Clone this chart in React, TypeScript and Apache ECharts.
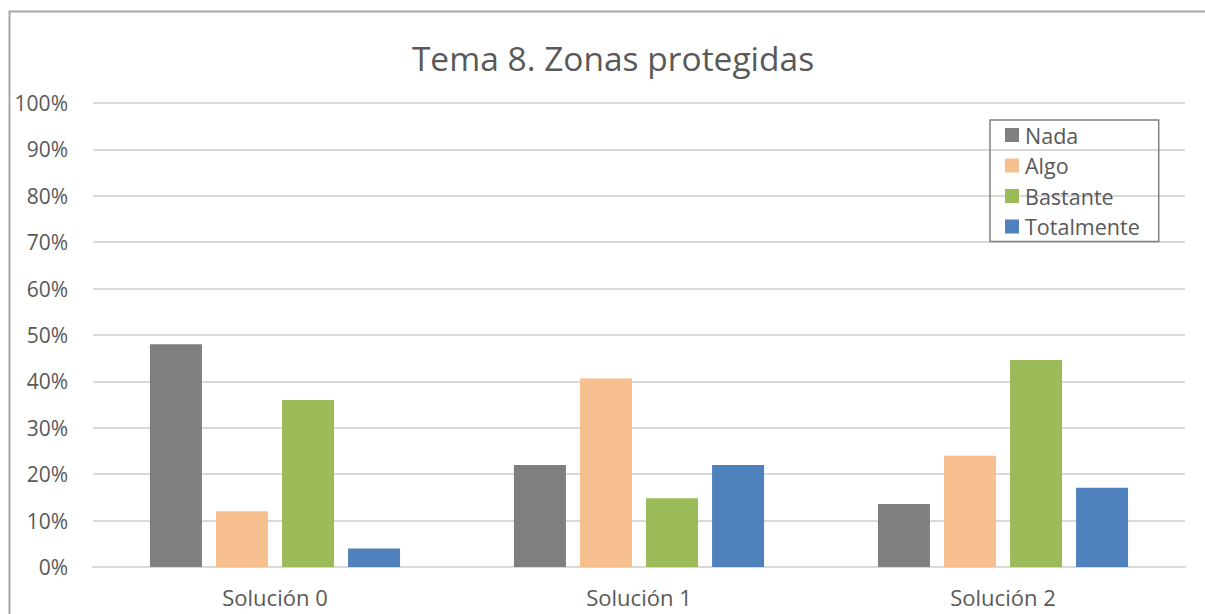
import React, { useEffect, useRef } from "react";
import * as echarts from "echarts";

const categories = ["Solución 0", "Solución 1", "Solución 2"];
const seriesNames = ["Nada", "Algo", "Bastante", "Totalmente"];
const nada = [0.48, 0.22, 0.136];
const algo = [0.12, 0.406, 0.24];
const bastante = [0.36, 0.148, 0.446];
const totalmente = [0.04, 0.22, 0.171];
const colors = ["#7f7f7f", "#f8bf8e", "#9bbb59", "#4f81bd"];

const FONT = "'Open Sans', sans-serif";

export default function App() {
  const ref = useRef<HTMLDivElement>(null);
  useEffect(() => {
    if (!ref.current) return;
    const chart = echarts.init(ref.current, null, { renderer: "svg" });
    const values = [nada, algo, bastante, totalmente];
    chart.setOption({
      animation: false,
      backgroundColor: "#ffffff",
      title: {
        text: "Tema 8. Zonas protegidas",
        left: 608,
        textAlign: "center",
        top: 36,
        textStyle: { fontFamily: FONT, fontSize: 33.5, fontWeight: "normal", color: "#595959" },
      },
      legend: {
        orient: "vertical",
        left: 990,
        top: 120,
        padding: [4, 19, 4, 15],
        borderColor: "#808080",
        borderWidth: 1.5,
        itemWidth: 14,
        itemHeight: 14,
        itemGap: 8.5,
        icon: "rect",
        textStyle: { fontFamily: FONT, fontSize: 21.5, color: "#595959", lineHeight: 22, padding: [0, 0, 0, 1] },
        data: seriesNames,
      },
      graphic: [
        {
          type: "rect",
          shape: { x: 9.5, y: 11.5, width: 1240, height: 660 },
          style: { fill: "none", stroke: "#a6a6a6", lineWidth: 2 },
          silent: true,
          z: -1,
        },
      ],
      grid: { left: 93, right: 20, top: 103, bottom: 47, containLabel: false },
      xAxis: {
        type: "category",
        data: categories,
        axisLine: { lineStyle: { color: "#d9d9d9", width: 2 } },
        axisTick: { show: false },
        axisLabel: { fontFamily: FONT, fontSize: 22, color: "#595959", margin: 19 },
      },
      yAxis: {
        type: "value",
        min: 0,
        max: 1,
        interval: 0.1,
        axisLine: { show: false },
        axisTick: { show: false },
        splitLine: { lineStyle: { color: "#d9d9d9", width: 2 } },
        axisLabel: {
          fontFamily: FONT,
          fontSize: 21,
          color: "#595959",
          margin: 25,
          formatter: (v: number) => Math.round(v * 100) + "%",
        },
      },
      series: seriesNames.map((name, i) => ({
        name,
        type: "bar",
        data: values[i],
        barWidth: 52,
        barGap: "27%",
        itemStyle: { color: colors[i] },
      })),
    });
    return () => chart.dispose();
  }, []);
  return (
    <div
      ref={ref}
      style={{ position: "absolute", left: 0, top: 0, width: 1205, height: 614 }}
    />
  );
}
